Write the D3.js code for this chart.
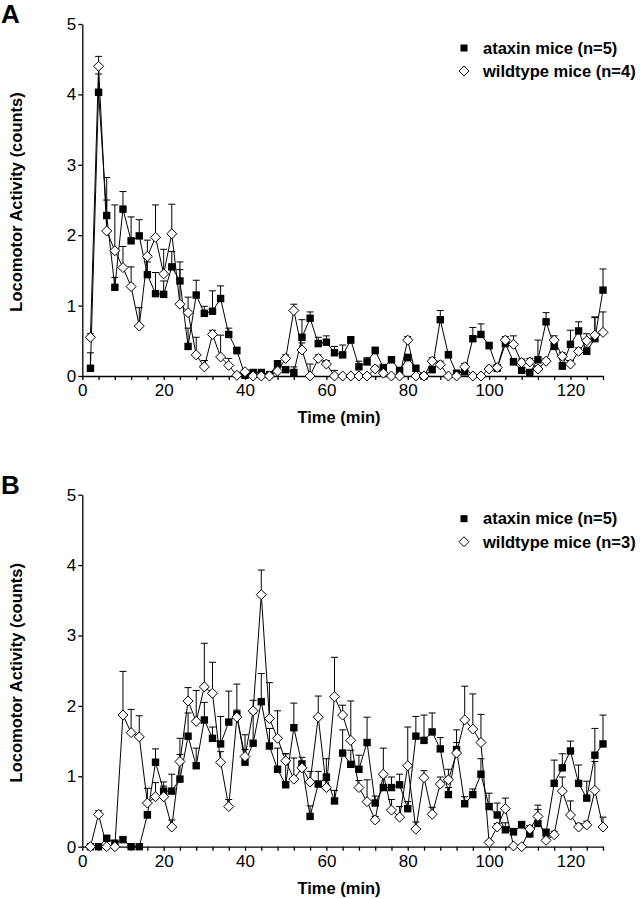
<!DOCTYPE html>
<html><head><meta charset="utf-8">
<script src="https://cdn.jsdelivr.net/npm/d3@7"></script>
<style>
body{margin:0;background:#fff;}
svg{display:block;}
text{font-family:"Liberation Sans",Arial,sans-serif;fill:#000;}
</style></head>
<body><svg id="chart" width="640" height="899"></svg>
<script>
const times = [2,4,6,8,10,12,14,16,18,20,22,24,26,28,30,32,34,36,38,40,42,44,46,48,50,52,54,56,58,60,62,64,66,68,70,72,74,76,78,80,82,84,86,88,90,92,94,96,98,100,102,104,106,108,110,112,114,116,118,120,122,124,126,128];

const ataxinA = [0.11,4.03,2.28,1.26,2.37,1.92,1.99,1.44,1.17,1.16,1.55,1.35,0.42,1.15,0.89,0.92,1.10,0.59,0.36,0.01,0.05,0.05,0.02,0.17,0.09,0.05,0.55,0.82,0.46,0.48,0.33,0.30,0.51,0.13,0.20,0.36,0.12,0.23,0.08,0.26,0.11,0.00,0.09,0.80,0.30,0.04,0.06,0.53,0.59,0.43,0.11,0.46,0.20,0.08,0.05,0.23,0.77,0.42,0.14,0.45,0.64,0.35,0.53,1.22];
const ataxinAErr = [0.22,0.26,0.54,0.14,0.25,0.34,0.23,0.18,0.30,0.19,0.22,0.27,0.26,0.21,0.10,0.29,0.18,0.09,0.05,0.03,0.02,0.02,0.02,0.05,0.03,0.08,0.25,0.09,0.09,0.09,0.09,0.14,0.05,0.08,0.06,0.05,0.04,0.04,0.03,0.05,0.04,0.02,0.04,0.13,0.05,0.02,0.06,0.16,0.15,0.05,0.05,0.06,0.05,0.04,0.03,0.28,0.13,0.06,0.05,0.20,0.13,0.06,0.30,0.30];
const wildA = [0.55,4.40,2.06,1.78,1.54,1.27,0.71,1.70,1.97,1.45,2.02,1.02,0.90,0.30,0.13,0.59,0.27,0.15,0.01,0.06,0.00,0.00,0.00,0.07,0.25,0.93,0.37,0.00,0.25,0.17,0.00,0.00,0.00,0.00,0.00,0.10,0.04,0.00,0.00,0.51,0.00,0.00,0.21,0.16,0.00,0.00,0.13,0.00,0.00,0.10,0.12,0.51,0.45,0.19,0.20,0.10,0.21,0.51,0.28,0.17,0.35,0.50,0.58,0.62];
const wildAErr = [0.05,0.14,0.44,0.65,0.30,0.28,0.26,0.23,0.46,0.35,0.42,0.49,0.22,0.25,0.09,0.06,0.31,0.10,0.03,0.03,0.02,0.02,0.02,0.03,0.05,0.09,0.10,0.17,0.05,0.05,0.08,0.02,0.02,0.02,0.02,0.04,0.03,0.02,0.02,0.05,0.02,0.02,0.05,0.05,0.02,0.02,0.05,0.02,0.02,0.04,0.04,0.05,0.12,0.05,0.05,0.04,0.04,0.06,0.05,0.05,0.05,0.10,0.26,0.29];

const ataxinB = [0.00,0.00,0.12,0.05,0.10,0.00,0.00,0.45,1.20,0.79,0.79,0.96,1.57,1.15,1.80,1.54,1.46,1.77,1.88,1.20,1.47,2.06,1.43,1.10,0.88,1.69,1.17,0.43,0.89,0.99,0.65,1.33,1.17,1.10,1.48,0.62,0.84,0.84,0.88,0.54,1.57,1.51,1.63,1.39,0.74,1.38,0.61,0.74,1.03,0.57,0.45,0.24,0.21,0.31,0.18,0.33,0.20,0.90,1.12,1.36,0.90,0.69,1.30,1.46];
const ataxinBErr = [0.02,0.02,0.03,0.03,0.03,0.02,0.02,0.05,0.19,0.13,0.24,0.58,0.33,0.25,0.25,0.16,0.39,0.44,0.43,0.39,0.42,0.40,0.25,0.30,0.44,0.35,0.10,0.15,0.18,0.26,0.15,0.33,0.20,0.20,0.36,0.10,0.15,0.15,0.15,0.10,0.28,0.36,0.27,0.16,0.10,0.28,0.10,0.08,0.22,0.19,0.17,0.10,0.05,0.05,0.05,0.26,0.05,0.33,0.20,0.14,0.26,0.24,0.38,0.41];
const wildB = [0.00,0.46,0.00,0.00,1.87,1.62,1.56,0.62,0.71,0.71,0.28,1.21,2.07,1.78,2.27,2.18,1.20,0.57,1.84,1.28,1.93,3.58,1.82,1.54,1.22,0.96,1.12,0.92,1.84,0.84,2.13,1.87,1.51,0.84,0.64,0.38,1.03,0.52,0.42,1.15,0.25,0.98,0.46,0.89,0.95,1.33,1.80,1.67,1.48,0.06,0.28,0.54,0.01,0.00,0.25,0.43,0.09,0.17,0.79,0.45,0.28,0.31,0.80,0.28];
const wildBErr = [0.02,0.05,0.02,0.02,0.62,0.33,0.30,0.21,0.20,0.15,0.10,0.10,0.19,0.44,0.62,0.44,0.15,0.10,0.10,0.10,0.15,0.35,0.51,0.39,0.10,0.30,0.10,0.15,0.30,0.10,0.56,0.14,0.56,0.10,0.31,0.05,0.37,0.15,0.15,0.55,0.10,0.10,0.10,0.10,0.15,0.15,0.48,0.50,0.40,0.03,0.05,0.15,0.02,0.02,0.05,0.10,0.05,0.05,0.20,0.20,0.05,0.05,0.41,0.14];

const yTickValues = [0,1,2,3,4,5];
const xTickValues = [0,4,8,12,16,20,24,28,32,36,40,44,48,52,56,60,64,68,72,76,80,84,88,92,96,100,104,108,112,116,120,124,128];
const xTickLabels = [0,20,40,60,80,100,120];

const panels = [
  {letter:"A", ataxin:ataxinA, ataxinErr:ataxinAErr, wild:wildA, wildErr:wildAErr,
   legend:["ataxin mice (n=5)","wildtype mice (n=4)"]},
  {letter:"B", ataxin:ataxinB, ataxinErr:ataxinBErr, wild:wildB, wildErr:wildBErr,
   legend:["ataxin mice (n=5)","wildtype mice (n=3)"]}
];

const svg = d3.select("#chart");
const x = d3.scaleLinear().domain([0,128]).range([82.3,603]);
const tops = [0, 470.7];

panels.forEach((p,i)=>{
  const off = tops[i];
  const y = d3.scaleLinear().domain([0,5]).range([376+off, 24+off]);
  const g = svg.append("g");

  // panel letter
  g.append("text").attr("x",1).attr("y",23+off).attr("font-size",26).attr("font-weight","bold").text(p.letter);

  // axes
  const xAxis = d3.axisBottom(x).tickValues(xTickValues).tickSize(4).tickSizeOuter(0)
    .tickFormat(d => xTickLabels.includes(d) ? d : "");
  const gx = g.append("g").attr("transform",`translate(0,${y(0)})`).call(xAxis);
  gx.selectAll("text").attr("font-size",17).attr("dy","0.9em").attr("y",5);
  gx.selectAll("line,path").attr("stroke","#000").attr("stroke-width",1.3);

  const yAxis = d3.axisLeft(y).tickValues(yTickValues).tickSize(4).tickSizeOuter(0).tickFormat(d3.format("d"));
  const gy = g.append("g").attr("transform",`translate(${x(0)},0)`).call(yAxis);
  gy.selectAll("text").attr("font-size",17).attr("x",-6);
  gy.selectAll("line,path").attr("stroke","#000").attr("stroke-width",1.3);
  g.selectAll(".tick text").attr("font-family","'Liberation Sans',Arial,sans-serif").attr("fill","#000");

  // axis titles
  g.append("text").attr("transform",`translate(22,${(y(0)+y(5))/2+2}) rotate(-90)`)
    .attr("text-anchor","middle").attr("font-size",16.5).attr("font-weight","bold")
    .text("Locomotor Activity (counts)");
  g.append("text").attr("x",339).attr("y",y(0)+47).attr("text-anchor","middle")
    .attr("font-size",16.5).attr("font-weight","bold").text("Time (min)");

  const series = [
    {vals:p.ataxin, err:p.ataxinErr, type:"square"},
    {vals:p.wild, err:p.wildErr, type:"diamond"}
  ];
  const line = d3.line().x((d,j)=>x(times[j])).y(d=>y(d));

  // lines
  series.forEach(s=>{
    g.append("path").datum(s.vals).attr("d",line).attr("fill","none").attr("stroke","#000").attr("stroke-width",1);
  });
  // error bars
  series.forEach(s=>{
    const eg = g.append("g").attr("stroke","#000").attr("stroke-width",1);
    eg.selectAll("line.v").data(s.vals).join("line").attr("class","v")
      .attr("x1",(d,j)=>x(times[j])).attr("x2",(d,j)=>x(times[j]))
      .attr("y1",d=>y(d)).attr("y2",(d,j)=>y(d+s.err[j]));
    eg.selectAll("line.c").data(s.vals).join("line").attr("class","c")
      .attr("x1",(d,j)=>x(times[j])-3.5).attr("x2",(d,j)=>x(times[j])+3.5)
      .attr("y1",(d,j)=>y(d+s.err[j])).attr("y2",(d,j)=>y(d+s.err[j]));
  });
  // markers
  series.forEach(s=>{
    if(s.type==="square"){
      g.selectAll(null).data(s.vals).join("rect")
        .attr("x",(d,j)=>x(times[j])-3.7).attr("y",d=>y(d)-3.7)
        .attr("width",7.4).attr("height",7.4).attr("fill","#000");
    } else {
      g.selectAll(null).data(s.vals).join("path")
        .attr("d",(d,j)=>{const cx=x(times[j]), cy=y(d), r=5;
          return `M${cx},${cy-r}L${cx+r},${cy}L${cx},${cy+r}L${cx-r},${cy}Z`;})
        .attr("fill","#fff").attr("stroke","#000").attr("stroke-width",1);
    }
  });

  // legend
  const lg = g.append("g");
  lg.append("rect").attr("x",460.5).attr("y",44.5+off).attr("width",7).attr("height",7).attr("fill","#000");
  lg.append("path").attr("d",`M464,${66+off}L469,${71+off}L464,${76+off}L459,${71+off}Z`)
    .attr("fill","#fff").attr("stroke","#000").attr("stroke-width",1);
  lg.append("text").attr("x",483).attr("y",53.5+off).attr("font-size",16.5).attr("font-weight","bold").text(p.legend[0]);
  lg.append("text").attr("x",483).attr("y",77+off).attr("font-size",16.5).attr("font-weight","bold").text(p.legend[1]);
});
</script>
</body></html>
